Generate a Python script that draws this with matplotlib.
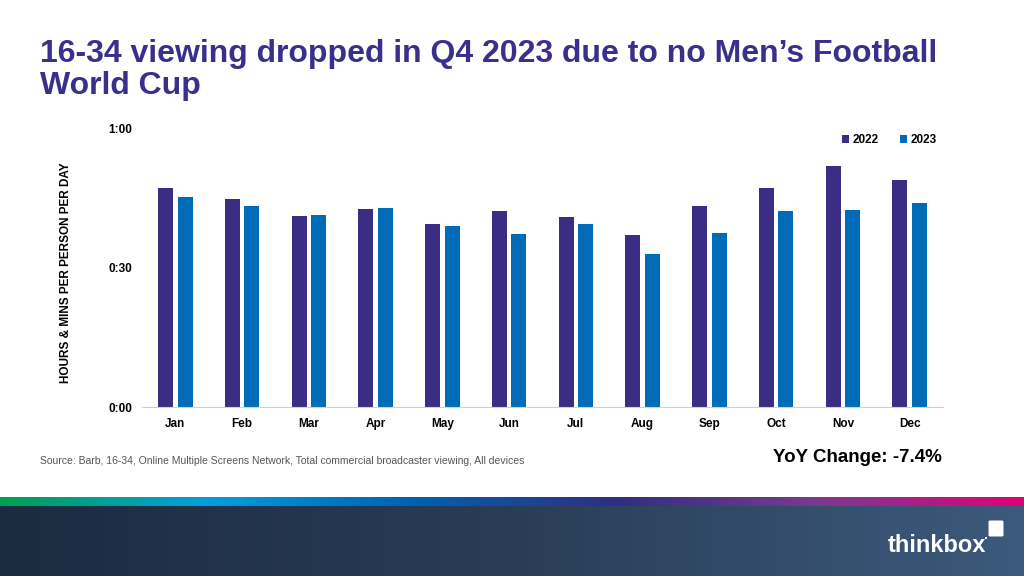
import numpy as np
import matplotlib
matplotlib.use("Agg")
import matplotlib.pyplot as plt
from matplotlib.colors import LinearSegmentedColormap
from matplotlib.patches import FancyBboxPatch, Rectangle

plt.rcParams['font.family'] = ['Liberation Sans', 'DejaVu Sans']

months = ['Jan', 'Feb', 'Mar', 'Apr', 'May', 'Jun', 'Jul', 'Aug', 'Sep', 'Oct', 'Nov', 'Dec']
# minutes per person per day
mins_2022 = [47.2, 44.9, 41.2, 42.7, 39.5, 42.3, 40.9, 37.1, 43.4, 47.3, 52.0, 48.9]
mins_2023 = [45.4, 43.3, 41.4, 42.9, 39.0, 37.3, 39.4, 33.0, 37.5, 42.3, 42.5, 44.1]
y_ticks = [0, 30, 60]
y_tick_labels = ['0:00', '0:30', '1:00']

c22 = '#3b2d84'
c23 = '#006bb6'
title_col = '#3a2f8c'

fig = plt.figure(figsize=(10.24, 5.76), dpi=100)
fig.patch.set_facecolor('white')

ax = fig.add_axes([142 / 1024, (576 - 407) / 576, (943 - 142) / 1024, (407 - 129) / 576])
x = np.arange(len(months))
w = 0.225
ax.bar(x - 0.145, mins_2022, width=w, color=c22, label='2022')
ax.bar(x + 0.145, mins_2023, width=w, color=c23, label='2023')
ax.set_xlim(-0.5, 11.5)
ax.set_ylim(0, 60)
ax.set_xticks(x)
ax.set_xticklabels(months, fontsize=8.5, fontweight='bold')
ax.set_yticks(y_ticks)
ax.set_yticklabels(y_tick_labels, fontsize=8.5, fontweight='bold')
ax.tick_params(length=0, pad=8)
ax.tick_params(axis='y', pad=7)
for s in ['top', 'right', 'left']:
    ax.spines[s].set_visible(False)
ax.spines['bottom'].set_color('#d0d0d0')
ax.set_ylabel('HOURS & MINS PER PERSON PER DAY', fontsize=8.5, fontweight='bold')
ax.yaxis.set_label_coords(-0.0874, 0.484)

leg = fig.legend(loc='center', bbox_to_anchor=(889 / 1024, 1 - 140 / 576), ncol=2, frameon=False,
                 prop={'weight': 'bold', 'size': 8.5}, handlelength=0.6, handleheight=0.6,
                 handletextpad=0.3, columnspacing=1.8)

fig.text(40 / 1024, 1 - 62 / 576, '16-34 viewing dropped in Q4 2023 due to no Men\u2019s Football',
         fontsize=23, fontweight='bold', color=title_col, va='baseline', ha='left')
fig.text(40 / 1024, 1 - 94 / 576, 'World Cup',
         fontsize=23, fontweight='bold', color=title_col, va='baseline', ha='left')

fig.text(40 / 1024, 1 - 461 / 576, 'Source: Barb, 16-34, Online Multiple Screens Network, Total commercial broadcaster viewing, All devices',
         fontsize=7.5, color='#555555', va='center', ha='left')
fig.text(942 / 1024, 1 - 458 / 576, 'YoY Change: -7.4%', fontsize=13.5, fontweight='bold', color='black',
         va='center', ha='right')

# footer band with gradient stripe
bg = fig.add_axes([0, 0, 1, 1], zorder=-1)
bg.axis('off')
stripe = LinearSegmentedColormap.from_list('stripe', ['#00a050', '#00a0dc', '#0062b0', '#2f2f80', '#7a3a90', '#e0007a'])
grad = np.linspace(0, 1, 512).reshape(1, -1)
bg.imshow(grad, cmap=stripe, extent=[0, 1024, 506, 497], aspect='auto')
dark = LinearSegmentedColormap.from_list('dark', ['#1b2b40', '#2a3d58', '#3c5a7c'])
bg.imshow(grad, cmap=dark, extent=[0, 1024, 576, 506], aspect='auto')
bg.set_xlim(0, 1024)
bg.set_ylim(576, 0)

logo = fig.add_axes([0, 0, 1, 1], zorder=5)
logo.set_xlim(0, 1024)
logo.set_ylim(576, 0)
logo.axis('off')
logo.text(888, 546, 'thinkbox', fontsize=17, fontweight='bold', color='white', ha='left', va='center')
logo.add_patch(FancyBboxPatch((990, 522), 12, 13, boxstyle='round,pad=1.5', fc='white', ec='none'))
logo.add_patch(Rectangle((985, 537), 2, 2, fc='white', ec='none'))

fig.savefig('out.png', dpi=100)
